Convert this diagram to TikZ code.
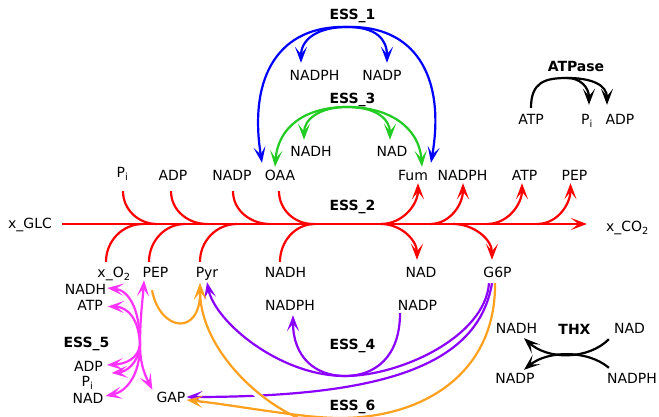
\documentclass[tikz,border=0pt]{standalone}
\usepackage{fontspec}
\setmainfont{DejaVu Sans}
\usetikzlibrary{arrows.meta}

\definecolor{essred}{HTML}{FF0000}
\definecolor{essblue}{HTML}{0000FF}
\definecolor{essgreen}{HTML}{22CC22}
\definecolor{esspink}{HTML}{FF33FF}
\definecolor{esspurple}{HTML}{8C00FF}
\definecolor{essorange}{HTML}{FFA01E}

\tikzset{
  met/.style={font=\fontsize{14}{16}\selectfont, inner sep=1pt, text height=10pt, text depth=1pt, anchor=base},
  enz/.style={met, font=\fontsize{14}{16}\selectfont\bfseries},
  link/.style={line width=2.2pt},
  flux/.style={link, -{Stealth[length=16pt,width=12pt,inset=7.5pt]}},
}

\begin{document}
\begin{tikzpicture}[x=1pt,y=1pt]
  \fill[white] (0,0) rectangle (659,417);
  \useasboundingbox (0,0) rectangle (659,417);

  % ESS_1 and ESS_3 labels
  \node[enz] (ess1) at (352.5,397.5) {ESS\_1};
  \node[met] (e1NADPH) at (314.5,336) {NADPH};
  \node[met] (e1NADP) at (382,336) {NADP};
  \node[enz] (ess3) at (352.5,313) {ESS\_3};
  \node[met] (e3NADH) at (311,260) {NADH};
  \node[met] (e3NAD) at (392,260) {NAD};

  % ATPase
  \node[enz] (atpase) at (576,345) {ATPase};
  \node[met] (aATP) at (531,292) {ATP};
  \node[met] (aPi) at (587,292) {P\textsubscript{i}};
  \node[met] (aADP) at (620,292) {ADP};

  % metabolites above the main flux
  \node[met] (tPi) at (122.5,239) {P\textsubscript{i}};
  \node[met] (tADP) at (173,236) {ADP};
  \node[met] (tNADP) at (232,236) {NADP};
  \node[met] (OAA) at (280,236) {OAA};
  \node[met] (Fum) at (413,236) {Fum};
  \node[met] (tNADPH) at (462.5,236) {NADPH};
  \node[met] (tATP) at (524.5,236) {ATP};
  \node[met] (tPEP) at (574.5,236) {PEP};

  % main flux ESS_2
  \node[enz] (ess2) at (352.5,206) {ESS\_2};
  \node[met] (GLC) at (30,188.5) {x\_GLC};
  \node[met] (CO2) at (627.5,185.3) {x\_CO\textsubscript{2}};

  % metabolites below the main flux
  \node[met] (xO2) at (114,139) {x\_O\textsubscript{2}};
  \node[met] (bPEP) at (155.5,139) {PEP};
  \node[met] (Pyr) at (207,139) {Pyr};
  \node[met] (bNADH) at (285.5,139) {NADH};
  \node[met] (bNAD) at (421,139) {NAD};
  \node[met] (G6P) at (497.5,139) {G6P};

  % ESS_4, ESS_6
  \node[met] (e4NADPH) at (290,106) {NADPH};
  \node[met] (e4NADP) at (417.5,106) {NADP};
  \node[enz] (ess4) at (352.5,67) {ESS\_4};
  \node[enz] (ess6) at (352.5,6) {ESS\_6};
  \node[met] (GAP) at (171,14) {GAP};

  % ESS_5
  \node[enz] (ess5) at (86.5,69) {ESS\_5};
  \node[met] (m5NADH) at (85.5,122) {NADH};
  \node[met] (m5ATP) at (90,106) {ATP};
  \node[met] (m5ADP) at (88.5,45) {ADP};
  \node[met] (m5Pi) at (87.5,30) {P\textsubscript{i}};
  \node[met] (m5NAD) at (88,13) {NAD};

  % THX
  \node[met] (xNADH) at (516.5,83) {NADH};
  \node[enz] (thx) at (574.5,82) {THX};
  \node[met] (xNAD) at (629.5,83) {NAD};
  \node[met] (xNADP) at (515,33) {NADP};
  \node[met] (xNADPH) at (632,33) {NADPH};

  % junctions on the main flux
  \foreach \n/\x in {jO2/143, jPi/157, jPEP/185, jADP/207, jPyr/237, jNADP/270,
                     jOAA/313, jNADH/315, jFum/381, jNADPHt/430, jG6P/453,
                     jATP/487, jPEPt/537}
    \coordinate (\n) at (\x,193);
  \coordinate (hub1) at (347,390);
  \coordinate (hub3) at (347,310);
  \coordinate (hubA) at (567,339);
  \coordinate (hub4) at (345,41);
  \coordinate (hub5) at (140,72);
  \coordinate (hub6) at (340,-1);

  % ESS_2 (red)
  \draw[flux, essred, shorten <=9pt, shorten >=18pt] (GLC.east) -- (GLC.east -| CO2.west);
  \foreach \m/\dx/\dy/\j in {tPi/0.5/-11/jPi, tADP/-2/-8/jADP, tNADP/1/-8/jNADP, OAA/-1/-8/jOAA}
    \draw[link, essred] ([shift={(\dx,\dy)}]\m.south) to[out=-90,in=180] (\j);
  \foreach \m/\dx/\j in {xO2/-8/jO2, bPEP/-6.5/jPEP, Pyr/-7/jPyr, bNADH/-5.5/jNADH}
    \draw[link, essred] ([shift={(\dx,5)}]\m.north) to[out=90,in=180] (\j);
  \foreach \j/\m/\dx in {jFum/Fum/5, jNADPHt/tNADPH/0.5, jATP/tATP/-2.5, jPEPt/tPEP/-4}
    \draw[flux, essred] (\j) to[out=0,in=-90] ([shift={(\dx,0)}]\m.south);
  \foreach \j/\m/\dx in {jFum/bNAD/-4, jG6P/G6P/-5.5}
    \draw[flux, essred] (\j) to[out=0,in=90] ([shift={(\dx,7)}]\m.north);

  % ESS_1 (blue)
  \draw[flux, essblue] (hub1) .. controls (280,392) and (248,342) .. ([shift={(-18,7)}]OAA.north);
  \draw[flux, essblue] (hub1) .. controls (414,392) and (446,342) .. ([shift={(18,7)}]Fum.north);
  \draw[flux, essblue] (hub1) .. controls (318,390) and (301,378) .. ([shift={(-13.5,7)}]e1NADPH.north);
  \draw[flux, essblue] (hub1) .. controls (376,390) and (387,378) .. ([shift={(5,7)}]e1NADP.north);

  % ESS_3 (green)
  \draw[flux, essgreen] (hub3) .. controls (305,310) and (278,290) .. ([shift={(-5,3)}]OAA.north);
  \draw[flux, essgreen] (hub3) .. controls (389,310) and (419,290) .. ([shift={(9,3)}]Fum.north);
  \draw[flux, essgreen] (hub3) .. controls (320,310) and (304,298) .. ([shift={(-7,6)}]e3NADH.north);
  \draw[flux, essgreen] (hub3) .. controls (376,310) and (390,298) .. ([shift={(-2,6)}]e3NAD.north);

  % ATPase
  \draw[flux] ([shift={(0,6)}]aATP.north) .. controls (531,335) and (545,339) .. (hubA)
    .. controls (580,339) and (589,330) .. ([shift={(2,9)}]aPi.north);
  \draw[flux] (hubA) .. controls (592,339) and (607,332) .. ([shift={(-13,9)}]aADP.north);

  % THX
  \draw[flux] ([shift={(-4,-3)}]xNAD.south west) .. controls (588,57) and (548,57) .. ([shift={(7.5,-2)}]xNADH.south);
  \draw[flux] ([shift={(3,5)}]xNADPH.north west) .. controls (588,67) and (548,67) .. ([shift={(9,3)}]xNADP.north);

  % ESS_5 (pink)
  \draw[flux, esspink] (hub5) .. controls (140,110) and (128,127) .. ([yshift=2.5pt]m5NADH.east);
  \draw[flux, esspink] (hub5) .. controls (139,98) and (128,110) .. ([xshift=4pt]m5ATP.east);
  \draw[flux, esspink] (hub5) .. controls (140,100) and (143,120) .. ([xshift=-11.5pt]bPEP.south);
  \draw[flux, esspink] (hub5) .. controls (138,58) and (125,53) .. ([shift={(3,2.5)}]m5ADP.east);
  \draw[flux, esspink] (hub5) .. controls (138,52) and (125,45) .. ([shift={(17,9.5)}]m5Pi.east);
  \draw[flux, esspink] (hub5) .. controls (140,40) and (125,25) .. ([shift={(1,3.5)}]m5NAD.east);
  \draw[flux, esspink] (hub5) .. controls (140,50) and (147,38) .. ([shift={(-3,2)}]GAP.north west);

  % ESS_4 (purple)
  \draw[flux, esspurple] ([shift={(-8.5,-3)}]G6P.south) .. controls (485,80) and (400,41) .. (hub4)
    .. controls (280,41) and (215,95) .. ([yshift=-2pt]Pyr.south);
  \draw[flux, esspurple] ([xshift=-17.5pt]e4NADP.south) .. controls (400,60) and (375,41) .. (hub4)
    .. controls (315,41) and (293,60) .. ([shift={(3,-2)}]e4NADPH.south);
  \draw[flux, esspurple] ([shift={(-5.5,-3)}]G6P.south) .. controls (478,50) and (380,20) .. ([yshift=1.5pt]GAP.east);

  % ESS_6 (orange)
  \draw[white, line width=6pt, shorten >=25pt] (hub6) .. controls (318,-30) and (200,45) .. ([shift={(-7,-3)}]Pyr.south);
  \draw[flux, essorange] ([shift={(-3.5,-10)}]bPEP.south) .. controls (160,85) and (201,80) .. ([shift={(-7,-3)}]Pyr.south);
  \draw[flux, essorange] ([shift={(-2.5,-3)}]G6P.south) .. controls (496,45) and (425,-1) .. (hub6)
    .. controls (300,-1) and (235,12) .. ([yshift=-1.5pt]GAP.east);
  \draw[flux, essorange] (hub6) .. controls (318,-30) and (200,45) .. ([shift={(-7,-3)}]Pyr.south);
\end{tikzpicture}
\end{document}
